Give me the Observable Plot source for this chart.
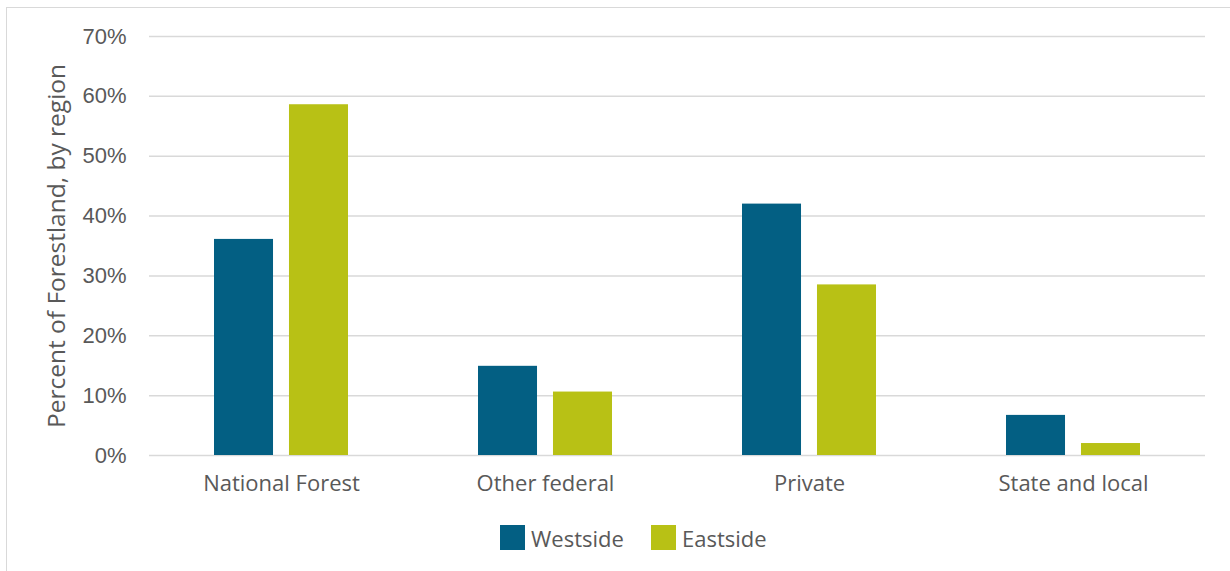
<!DOCTYPE html>
<html><head><meta charset="utf-8">
<script src="https://cdn.jsdelivr.net/npm/d3@7"></script>
<script src="https://cdn.jsdelivr.net/npm/@observablehq/plot@0.6"></script>
<style>
body{margin:0;background:#fff;width:1230px;height:571px;overflow:hidden;position:relative;font-family:"Open Sans",sans-serif;}
#frame{position:absolute;left:6px;top:7px;width:1240px;height:600px;border:1px solid #d9d9d9;box-sizing:border-box;}
#chart{position:absolute;left:0;top:0;}
#legend{position:absolute;top:525px;left:0;width:1230px;height:26px;font-size:22px;color:#595959;}
.item{position:absolute;top:0;display:flex;align-items:center;height:25px;white-space:nowrap;}
.sw{width:25px;height:25px;display:inline-block;margin-right:6px;}
</style></head>
<body>
<div id="frame"></div>
<div id="chart"></div>
<div id="legend"></div>
<script>
const categories = ["National Forest", "Other federal", "Private", "State and local"];
const regions = ["Westside", "Eastside"];
const westside = [36.1, 14.9, 42.0, 6.7];
const eastside = [58.6, 10.6, 28.5, 2.0];
const yTicks = [0, 10, 20, 30, 40, 50, 60, 70];
const colors = ["#035f83", "#b8c115"];
const yLabel = "Percent of Forestland, by region";

const data = categories.flatMap((c, i) => [
  {category: c, region: regions[0], value: westside[i]},
  {category: c, region: regions[1], value: eastside[i]}
]);

const chart = Plot.plot({
  width: 1230,
  height: 510,
  marginLeft: 148,
  marginRight: 25,
  marginTop: 36,
  marginBottom: 55,
  style: {fontFamily: "'Open Sans', sans-serif", fontSize: "22px", color: "#595959", background: "transparent"},
  fx: {domain: categories, padding: 0, label: null},
  x: {domain: regions, paddingInner: 0.213, paddingOuter: 0.867, round: false, axis: null},
  y: {domain: [0, 70]},
  color: {domain: regions, range: colors},
  marks: [
    Plot.gridY(yTicks, {stroke: "#d9d9d9", strokeOpacity: 1, strokeWidth: 1.5}),
    Plot.axisY(yTicks, {
      tickSize: 0, tickPadding: 23, tickFormat: d => d + "%",
      fontFamily: "'Liberation Sans', Arial, sans-serif", fontSize: 22,
      label: null
    }),
    Plot.text([{category: categories[0], label: yLabel}], {
      fx: "category", text: "label", frameAnchor: "left", rotate: -90, dx: -92,
      fontSize: 24.5, fill: "#595959", textAnchor: "middle"
    }),
    Plot.axisFx({anchor: "bottom", tickSize: 0, tickPadding: 20, label: null, fontSize: 22}),
    Plot.barY(data, {fx: "category", x: "region", y: "value", fill: "region"})
  ]
});
document.getElementById("chart").appendChild(chart);

const legend = document.getElementById("legend");
const legendX = [500, 651];
regions.forEach((r, i) => {
  const item = document.createElement("div");
  item.className = "item";
  item.style.left = legendX[i] + "px";
  const sw = document.createElement("span");
  sw.className = "sw";
  sw.style.background = colors[i];
  const t = document.createElement("span");
  t.textContent = r;
  item.appendChild(sw);
  item.appendChild(t);
  legend.appendChild(item);
});
</script>
</body></html>
